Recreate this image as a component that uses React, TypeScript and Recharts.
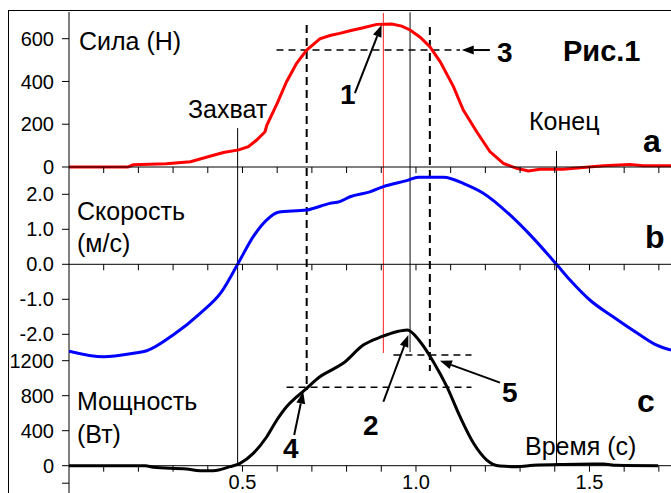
import React from 'react';
import { LineChart, Line, XAxis, YAxis, ReferenceLine } from 'recharts';

// --- data ---
const forceTime = [0, 0.1, 0.17, 0.185, 0.28, 0.35, 0.406, 0.445, 0.489, 0.517, 0.54, 0.565, 0.57, 0.6, 0.627, 0.656, 0.685, 0.723, 0.752, 0.78, 0.81, 0.848, 0.887, 0.93, 0.959, 0.983, 1.012, 1.04, 1.07, 1.108, 1.136, 1.175, 1.213, 1.252, 1.29, 1.324, 1.357, 1.424, 1.473, 1.54, 1.617, 1.655, 1.735];
const forceValues = [0, 0, 0, 10, 15, 25, 50, 68, 80, 95, 125, 165, 195, 298, 399, 485, 547, 599, 615, 625, 637, 651, 667, 669, 659, 641, 607, 563, 492, 376, 267, 165, 72, 17, -6, -19, -11, -11, -3, 6, 12, 6, 6];

const speedTime = [0, 0.1, 0.186, 0.224, 0.3, 0.378, 0.44, 0.486, 0.531, 0.57, 0.603, 0.685, 0.752, 0.78, 0.81, 0.867, 0.906, 0.973, 1.007, 1.079, 1.146, 1.194, 1.271, 1.329, 1.405, 1.444, 1.501, 1.568, 1.646, 1.694, 1.735];
const speedValues = [-2.48, -2.64, -2.54, -2.47, -2.02, -1.4, -0.78, 0, 0.79, 1.27, 1.49, 1.55, 1.74, 1.79, 1.93, 2.07, 2.22, 2.39, 2.49, 2.49, 2.27, 2.03, 1.41, 0.84, 0, -0.45, -1.02, -1.5, -2.02, -2.31, -2.45];

const powerTime = [0, 0.22, 0.243, 0.339, 0.378, 0.416, 0.464, 0.493, 0.531, 0.57, 0.599, 0.627, 0.657, 0.685, 0.723, 0.752, 0.79, 0.848, 0.901, 0.944, 0.975, 1.012, 1.05, 1.089, 1.127, 1.166, 1.204, 1.242, 1.29, 1.338, 1.425, 1.54, 1.578, 1.698];
const powerValues = [0, 0, -18, -38, -57, -57, -11, 27, 141, 331, 522, 674, 789, 885, 1017, 1084, 1170, 1379, 1474, 1531, 1551, 1417, 1189, 903, 560, 256, 65, -3, -11, 5, 15, 19, 5, 0];

const forceTicks = [0, 200, 400, 600];
const speedTicks = [-2, -1, 0, 1, 2];
const powerTicks = [-200, 0, 400, 800, 1200];
const timeTicks = [0.1, 0.2, 0.3, 0.4, 0.5, 0.6, 0.7, 0.8, 0.9, 1.0, 1.1, 1.2, 1.3, 1.4, 1.5, 1.6, 1.7];
const timeLabels = [0.5, 1.0, 1.5];

// key moments (s) and levels
const tGrip = 0.486;
const tEnd = 1.405;
const tForcePeak = 0.906;
const tPowerPeak = 0.983;
const tLeftCut = 0.685;
const tRightCut = 1.04;
const forceLevel = 547;
const powerLow = 896;
const powerHigh = 1265;

const forceRows = forceTime.map((t, i) => ({ t, f: forceValues[i] }));
const speedRows = speedTime.map((t, i) => ({ t, v: speedValues[i] }));
const powerRows = powerTime.map((t, i) => ({ t, p: powerValues[i] }));

// --- layout ---
const W = 671;
const H = 493;
const TOP = 12;
const T_MAX = 1.735;
const F_ZERO = 167, F_PX = 0.21383;
const V_ZERO = 264.3, V_PX = 35;
const P_ZERO = 465.7, P_PX = 0.0875;

const domainFor = (zero: number, px: number) => [-(H - zero) / px, (zero - TOP) / px];
// express a power value in force units (for lines crossing panels)
const pInF = (p: number) => (F_ZERO - (P_ZERO - p * P_PX)) / F_PX;

const FONT = '"Liberation Sans", Arial, sans-serif';
const tickStyle = { fontSize: 20, fill: '#000', fontFamily: FONT };

const Arrow = (props: any) => {
  const { x1, y1, x2, y2 } = props;
  const a = Math.atan2(y2 - y1, x2 - x1);
  const len = 12;
  const half = 4.5;
  const bx = x2 - len * Math.cos(a);
  const by = y2 - len * Math.sin(a);
  const nx = -Math.sin(a) * half;
  const ny = Math.cos(a) * half;
  return (
    <g>
      <line x1={x1} y1={y1} x2={bx} y2={by} stroke="#000" strokeWidth={2} />
      <polygon points={`${x2},${y2} ${bx + nx},${by + ny} ${bx - nx},${by - ny}`} fill="#000" />
    </g>
  );
};

const layer: React.CSSProperties = { position: 'absolute', left: 0, top: 0 };

const xAxisProps = {
  dataKey: 't',
  type: 'number' as const,
  domain: [0, T_MAX],
  allowDataOverflow: true,
};

const PanelAxis = ({ zero, rows, labels }: { zero: number; rows: any[]; labels?: boolean }) => {
  const axisH = labels ? H - zero : 10;
  return (
    <div style={layer}>
      <LineChart width={W} height={zero + axisH} data={rows} margin={{ top: TOP, right: 0, bottom: 0, left: 69 }}>
        <YAxis hide domain={[0, 1]} />
        <XAxis
          {...xAxisProps}
          height={axisH}
          ticks={timeTicks}
          interval={0}
          stroke="#000"
          tickSize={6}
          tickMargin={3}
          tick={tickStyle}
          tickFormatter={(v: number) => (labels && timeLabels.some((l) => Math.abs(l - v) < 1e-6) ? v.toFixed(1) : '')}
        />
      </LineChart>
    </div>
  );
};

const dashed = { stroke: '#000', strokeWidth: 2, strokeDasharray: '8 5', ifOverflow: 'visible' as const };
const dashedH = { stroke: '#000', strokeWidth: 1.5, strokeDasharray: '7 5', ifOverflow: 'visible' as const };

export default function App() {
  return (
    <div style={{ position: 'absolute', left: 0, top: 0, width: W, height: H, overflow: 'hidden', background: '#fff' }}>
      <div style={{ position: 'absolute', left: 8, top: 10, width: 700, height: 600, borderLeft: '1px solid #000', borderTop: '1px solid #000' }} />

      {/* force panel + lines crossing panels */}
      <div style={layer}>
        <LineChart width={W} height={H} data={forceRows} margin={{ top: TOP, right: 0, bottom: 0, left: 9 }}>
          <XAxis {...xAxisProps} hide />
          <YAxis
            width={60}
            type="number"
            domain={domainFor(F_ZERO, F_PX)}
            allowDataOverflow
            ticks={forceTicks}
            interval={0}
            stroke="#000"
            tickSize={7}
            tickMargin={8}
            tick={tickStyle}
          />
          <ReferenceLine segment={[{ x: tGrip, y: 182 }, { x: tGrip, y: pInF(0) }]} stroke="#000" strokeWidth={1} ifOverflow="visible" />
          <ReferenceLine segment={[{ x: tEnd, y: 75 }, { x: tEnd, y: pInF(0) }]} stroke="#000" strokeWidth={1} ifOverflow="visible" />
          <ReferenceLine segment={[{ x: tForcePeak, y: 720 }, { x: tForcePeak, y: pInF(1288) }]} stroke="#ff2020" strokeWidth={1} ifOverflow="visible" />
          <ReferenceLine segment={[{ x: tPowerPeak, y: 724 }, { x: tPowerPeak, y: pInF(1299) }]} stroke="#444" strokeWidth={1.3} ifOverflow="visible" />
          <ReferenceLine segment={[{ x: tLeftCut, y: 664 }, { x: tLeftCut, y: pInF(865) }]} {...dashed} />
          <ReferenceLine segment={[{ x: tRightCut, y: 655 }, { x: tRightCut, y: pInF(1082) }]} {...dashed} />
          <ReferenceLine segment={[{ x: 0.598, y: forceLevel }, { x: 1.127, y: forceLevel }]} {...dashedH} />
          <ReferenceLine segment={[{ x: 0.824, y: 346 }, { x: 0.901, y: 664 }]} ifOverflow="visible" shape={Arrow} />
          <ReferenceLine segment={[{ x: 1.213, y: forceLevel }, { x: 1.132, y: forceLevel }]} ifOverflow="visible" shape={Arrow} />
          <Line dataKey="f" type="linear" stroke="#ff0000" strokeWidth={3} dot={false} isAnimationActive={false} />
        </LineChart>
      </div>

      {/* speed panel */}
      <div style={layer}>
        <LineChart width={W} height={H} data={speedRows} margin={{ top: TOP, right: 0, bottom: 0, left: 9 }}>
          <XAxis {...xAxisProps} hide />
          <YAxis
            width={60}
            type="number"
            domain={domainFor(V_ZERO, V_PX)}
            allowDataOverflow
            ticks={speedTicks}
            interval={0}
            axisLine={false}
            stroke="#000"
            tickSize={7}
            tickMargin={8}
            tick={tickStyle}
            tickFormatter={(v: number) => v.toFixed(1)}
          />
          <Line dataKey="v" type="monotone" stroke="#0000ff" strokeWidth={3} dot={false} isAnimationActive={false} />
        </LineChart>
      </div>

      {/* power panel */}
      <div style={layer}>
        <LineChart width={W} height={H} data={powerRows} margin={{ top: TOP, right: 0, bottom: 0, left: 9 }}>
          <XAxis {...xAxisProps} hide />
          <YAxis
            width={60}
            type="number"
            domain={domainFor(P_ZERO, P_PX)}
            allowDataOverflow
            ticks={powerTicks}
            interval={0}
            axisLine={false}
            stroke="#000"
            tickSize={7}
            tickMargin={8}
            tick={tickStyle}
            tickFormatter={(v: number) => (v < 0 ? '' : String(v))}
          />
          <ReferenceLine segment={[{ x: 0.627, y: powerLow }, { x: 1.16, y: powerLow }]} {...dashedH} />
          <ReferenceLine segment={[{ x: 0.935, y: powerHigh }, { x: 1.16, y: powerHigh }]} {...dashedH} />
          <ReferenceLine segment={[{ x: 0.906, y: 731 }, { x: 0.978, y: 1494 }]} ifOverflow="visible" shape={Arrow} />
          <ReferenceLine segment={[{ x: 0.649, y: 351 }, { x: 0.675, y: 846 }]} ifOverflow="visible" shape={Arrow} />
          <ReferenceLine segment={[{ x: 1.242, y: 949 }, { x: 1.069, y: 1200 }]} ifOverflow="visible" shape={Arrow} />
          <Line dataKey="p" type="monotone" stroke="#000" strokeWidth={3} dot={false} isAnimationActive={false} />
        </LineChart>
      </div>

      <PanelAxis zero={F_ZERO} rows={forceRows} />
      <PanelAxis zero={V_ZERO} rows={speedRows} />
      <PanelAxis zero={P_ZERO} rows={powerRows} labels />

      <svg width={W} height={H} style={{ ...layer, pointerEvents: 'none' }} fontFamily={FONT}>
        <g fontSize={25} fill="#000">
          <text x={79} y={50}>Сила (Н)</text>
          <text x={188} y={118}>Захват</text>
          <text x={529} y={130}>Конец</text>
          <text x={77} y={220}>Скорость</text>
          <text x={77} y={252}>(м/с)</text>
          <text x={77} y={410}>Мощность</text>
          <text x={77} y={443}>(Вт)</text>
          <text x={525} y={455}>Время (с)</text>
        </g>
        <g fontWeight="bold" fill="#000">
          <text x={563} y={61} fontSize={29}>Рис.1</text>
          <text x={643} y={152} fontSize={32}>a</text>
          <text x={645} y={248} fontSize={32}>b</text>
          <text x={637} y={412} fontSize={32}>c</text>
          <text x={340} y={104} fontSize={28}>1</text>
          <text x={363} y={435} fontSize={28}>2</text>
          <text x={497} y={62} fontSize={28}>3</text>
          <text x={283} y={458} fontSize={28}>4</text>
          <text x={502} y={402} fontSize={28}>5</text>
        </g>
      </svg>
    </div>
  );
}
